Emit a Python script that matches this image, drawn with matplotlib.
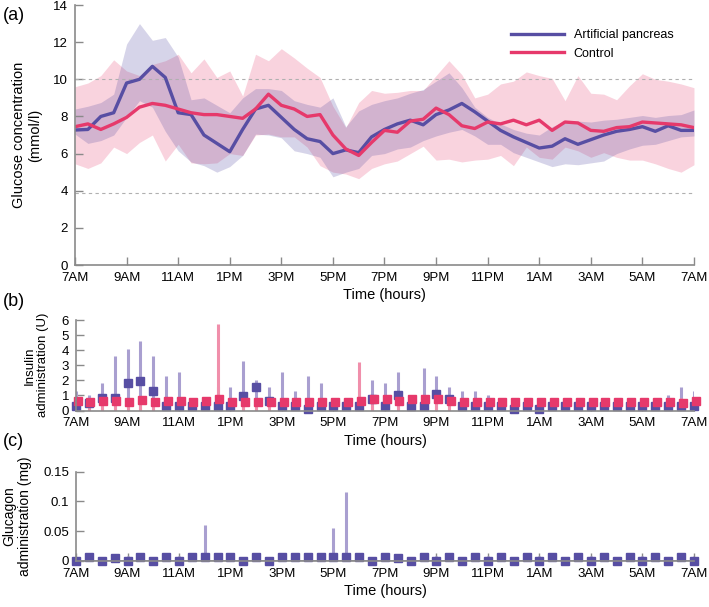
import numpy as np
import matplotlib
matplotlib.use('agg')
import matplotlib.pyplot as plt

plt.rcParams['font.family'] = ['Liberation Sans', 'DejaVu Sans']

# half-hourly samples, 7AM -> 7AM
hours = np.arange(49) * 0.5
tick_hours = np.arange(0, 25, 2)
tick_labels = ['7AM', '9AM', '11AM', '1PM', '3PM', '5PM', '7PM',
               '9PM', '11PM', '1AM', '3AM', '5AM', '7AM']

# (a) glucose, mmol/l
ap_mean = [7.27, 7.3, 8.0, 8.2, 9.8, 10.0, 10.7, 10.1, 8.2, 8.1, 7.0, 6.55, 6.1,
           7.3, 8.4, 8.6, 7.95, 7.3, 6.8, 6.65, 6.0, 6.2, 6.05, 6.9, 7.3,
           7.6, 7.8, 7.55, 8.1, 8.35, 8.7, 8.25, 7.75, 7.25, 6.9, 6.6, 6.3,
           6.4, 6.8, 6.5, 6.75, 7.0, 7.2, 7.3, 7.45, 7.2, 7.5, 7.25, 7.25]
ap_hi = [8.4, 8.55, 8.75, 9.2, 11.9, 13.0, 12.1, 12.25, 11.2, 8.9, 9.0, 8.6, 8.2,
         9.0, 9.5, 9.5, 9.4, 8.85, 8.65, 8.5, 9.0, 7.45, 8.3, 8.65, 8.85,
         9.0, 9.25, 9.45, 9.9, 10.35, 9.55, 8.5, 7.95, 7.6, 7.3, 7.1, 7.0,
         7.45, 7.75, 7.75, 7.7, 7.8, 7.85, 7.95, 8.05, 7.95, 8.05, 8.1, 8.35]
ap_lo = [7.05, 6.55, 6.7, 7.0, 7.95, 8.85, 8.5, 7.2, 6.15, 5.55, 5.35, 5.0, 5.3,
         5.9, 7.05, 7.0, 6.85, 6.15, 6.0, 5.8, 4.75, 5.0, 5.2, 5.9, 6.0,
         6.25, 6.35, 6.7, 6.95, 7.15, 7.3, 6.95, 6.5, 6.5, 6.05, 5.8, 5.55,
         5.3, 5.45, 5.4, 5.5, 5.6, 6.0, 6.25, 6.45, 6.5, 6.7, 6.9, 6.95]
ctrl_mean = [7.45, 7.6, 7.3, 7.6, 7.95, 8.5, 8.7, 8.6, 8.4, 8.2, 8.1, 8.1, 8.0,
             7.9, 8.4, 9.2, 8.6, 8.4, 8.0, 8.1, 7.0, 6.25, 5.9, 6.6, 7.25,
             7.15, 7.75, 7.85, 8.45, 8.1, 7.5, 7.35, 7.7, 7.6, 7.8, 7.55, 7.8,
             7.25, 7.7, 7.65, 7.25, 7.2, 7.4, 7.45, 7.7, 7.65, 7.6, 7.55, 7.4]
ctrl_hi = [9.6, 9.8, 10.2, 11.05, 10.45, 10.2, 10.8, 11.0, 11.35, 10.35, 11.1, 10.1, 10.45,
           9.1, 11.35, 11.0, 11.65, 11.15, 10.6, 10.1, 8.55, 7.4, 8.75, 9.4, 9.25,
           9.3, 9.4, 9.4, 10.2, 11.0, 10.25, 9.0, 9.2, 9.75, 9.9, 10.4, 10.2,
           10.05, 8.85, 10.2, 9.25, 9.2, 8.9, 9.65, 10.3, 10.0, 9.9, 9.75, 9.55]
ctrl_lo = [5.45, 5.2, 5.5, 6.35, 6.0, 6.6, 7.0, 5.6, 6.5, 5.5, 5.45, 5.5, 6.0,
           5.9, 7.0, 7.05, 6.9, 6.9, 6.35, 5.35, 5.0, 4.9, 4.65, 5.2, 5.45,
           5.6, 6.0, 6.4, 5.65, 5.7, 5.55, 5.65, 5.7, 5.9, 5.35, 6.35, 5.8,
           5.7, 6.35, 6.15, 5.8, 6.05, 5.8, 5.65, 5.65, 5.45, 5.2, 5.0, 5.4]

# (b) insulin, U
ap_ins = [0.3, 0.5, 0.8, 0.8, 1.85, 1.95, 1.3, 0.3, 0.3, 0.3, 0.3, 0.3, 0.3,
          0.95, 1.55, 0.6, 0.3, 0.3, 0.12, 0.3, 0.3, 0.3, 0.3, 0.75, 0.3,
          1.05, 0.3, 0.3, 1.1, 0.75, 0.3, 0.3, 0.3, 0.3, 0.08, 0.3, 0.08,
          0.3, 0.3, 0.3, 0.3, 0.3, 0.3, 0.3, 0.3, 0.3, 0.3, 0.3, 0.3]
ap_ins_hi = [1.3, 1.05, 1.8, 3.6, 4.05, 4.6, 3.6, 2.3, 2.55, 0.3, 0.3, 1.55, 1.55,
             3.3, 2.05, 1.55, 2.55, 1.3, 2.3, 1.8, 0.3, 0.3, 1.3, 2.05, 1.8,
             2.55, 0.3, 2.8, 2.3, 1.55, 1.3, 1.3, 1.05, 0.3, 0.3, 0.3, 0.3,
             0.3, 0.3, 0.3, 0.3, 0.3, 0.3, 0.3, 0.3, 0.3, 1.05, 1.55, 1.3]
ctrl_ins = [0.6, 0.55, 0.65, 0.65, 0.55, 0.7, 0.55, 0.65, 0.65, 0.55, 0.65, 0.75, 0.55,
            0.55, 0.55, 0.55, 0.55, 0.55, 0.55, 0.55, 0.55, 0.55, 0.65, 0.75, 0.75,
            0.65, 0.75, 0.75, 0.75, 0.65, 0.55, 0.55, 0.55, 0.55, 0.55, 0.55, 0.55,
            0.55, 0.55, 0.55, 0.55, 0.55, 0.55, 0.55, 0.55, 0.55, 0.55, 0.5, 0.65]
ctrl_ins_hi = [0.8, 0.8, 0.9, 0.9, 0.8, 0.9, 0.8, 0.9, 0.9, 0.8, 0.9, 5.75, 0.8,
               0.8, 0.8, 0.8, 0.8, 0.8, 0.8, 0.8, 0.8, 0.8, 3.2, 0.9, 0.9,
               0.9, 0.9, 0.9, 0.9, 0.9, 0.8, 0.8, 0.8, 0.8, 0.8, 0.8, 0.8,
               0.8, 0.8, 0.8, 0.8, 0.8, 0.8, 0.8, 0.8, 0.8, 0.8, 0.8, 0.9]

# (c) glucagon, mg
ap_glu = [0, 0.006, 0, 0.004, 0, 0.006, 0, 0.006, 0, 0.006, 0.006, 0.006, 0.006,
          0, 0.006, 0, 0.006, 0.006, 0.006, 0.006, 0.006, 0.006, 0.006, 0, 0.006,
          0.004, 0, 0.006, 0, 0.006, 0, 0.006, 0, 0.006, 0, 0.006, 0,
          0.006, 0, 0.006, 0, 0.006, 0, 0.006, 0, 0.006, 0, 0.006, 0]
ap_glu_hi = [0.003, 0.008, 0.003, 0.01, 0.008, 0.008, 0.003, 0.008, 0.008, 0.008, 0.06, 0.008, 0.008,
             0.003, 0.008, 0.003, 0.008, 0.008, 0.008, 0.01, 0.055, 0.115, 0.008, 0.003, 0.008,
             0.006, 0.003, 0.008, 0.008, 0.008, 0.003, 0.008, 0.008, 0.008, 0.003, 0.008, 0.008,
             0.008, 0.003, 0.008, 0.008, 0.008, 0.003, 0.008, 0.008, 0.008, 0.003, 0.008, 0.008]

BLUE = '#574ea3'
RED = '#e6396b'
BLUE_BAR = '#a99fd0'
RED_BAR = '#f08fab'
GREY = '#8a8a8a'


def style_axis(ax, ymax, yticks, yticklabels):
	ax.set_xlim(0, 24)
	ax.set_ylim(0, ymax)
	for side in ['top', 'right']:
		ax.spines[side].set_visible(False)
	for side in ['left', 'bottom']:
		ax.spines[side].set_color(GREY)
		ax.spines[side].set_linewidth(1.2)
	ax.set_xticks(tick_hours)
	ax.set_xticklabels(tick_labels)
	ax.set_yticks(yticks)
	ax.set_yticklabels(yticklabels)
	ax.tick_params(direction='in', length=6, color=GREY, width=1.0,
	               labelsize=9.5, pad=5)
	ax.set_xlabel('Time (hours)', fontsize=10.5, labelpad=3)


fig = plt.figure(figsize=(7.09, 6.07), dpi=100)
ax1 = fig.add_axes([0.1058, 0.5634, 0.873, 0.4283])
ax2 = fig.add_axes([0.1072, 0.3237, 0.8716, 0.1491])
ax3 = fig.add_axes([0.1072, 0.0763, 0.8716, 0.1466])

# (a)
ax1.fill_between(hours, ctrl_lo, ctrl_hi, color=RED, alpha=0.22, lw=0)
ax1.fill_between(hours, ap_lo, ap_hi, color=BLUE, alpha=0.24, lw=0)
for lvl in [10, 3.9]:
	ax1.axhline(lvl, color='#b0b0b0', lw=0.8, ls=(0, (3, 3)))
ax1.plot(hours, ap_mean, color=BLUE, lw=2.4, label='Artificial pancreas')
ax1.plot(hours, ctrl_mean, color=RED, lw=2.4, label='Control')
style_axis(ax1, 14, range(0, 15, 2), [str(v) for v in range(0, 15, 2)])
ax1.set_ylabel('Glucose concentration\n(mmol/l)', fontsize=10.5, labelpad=8)
ax1.legend(loc='upper right', bbox_to_anchor=(0.985, 0.95), frameon=False,
           fontsize=9, handlelength=4.2, labelspacing=0.5)

# (b)
ax2.vlines(hours, 0, ap_ins_hi, color=BLUE_BAR, lw=2.2)
ax2.vlines(hours, 0, ctrl_ins_hi, color=RED_BAR, lw=2.2)
ax2.plot(hours, ap_ins, ls='none', marker='s', ms=5.5, color=BLUE, clip_on=False)
ax2.plot(hours + 0.06, ctrl_ins, ls='none', marker='s', ms=5.5, color=RED, clip_on=False)
style_axis(ax2, 6, range(0, 7), [str(v) for v in range(0, 7)])
ax2.set_ylabel('Insulin\nadministration (U)', fontsize=9.5, labelpad=9)

# (c)
ax3.vlines(hours, 0, ap_glu_hi, color=BLUE_BAR, lw=2.2)
ax3.axhline(0, color=GREY, lw=1.2)
ax3.plot(hours, ap_glu, ls='none', marker='s', ms=5.5, color=BLUE, clip_on=False)
style_axis(ax3, 0.15, [0, 0.05, 0.1, 0.15], ['0', '0.05', '0.1', '0.15'])
ax3.set_ylabel('Glucagon\nadministration (mg)', fontsize=10, labelpad=8)

fig.text(0.004, 0.975, '(a)', fontsize=13, va='center')
fig.text(0.004, 0.503, '(b)', fontsize=13, va='center')
fig.text(0.004, 0.272, '(c)', fontsize=13, va='center')

plt.savefig('out.png', dpi=100)
plt.close()
